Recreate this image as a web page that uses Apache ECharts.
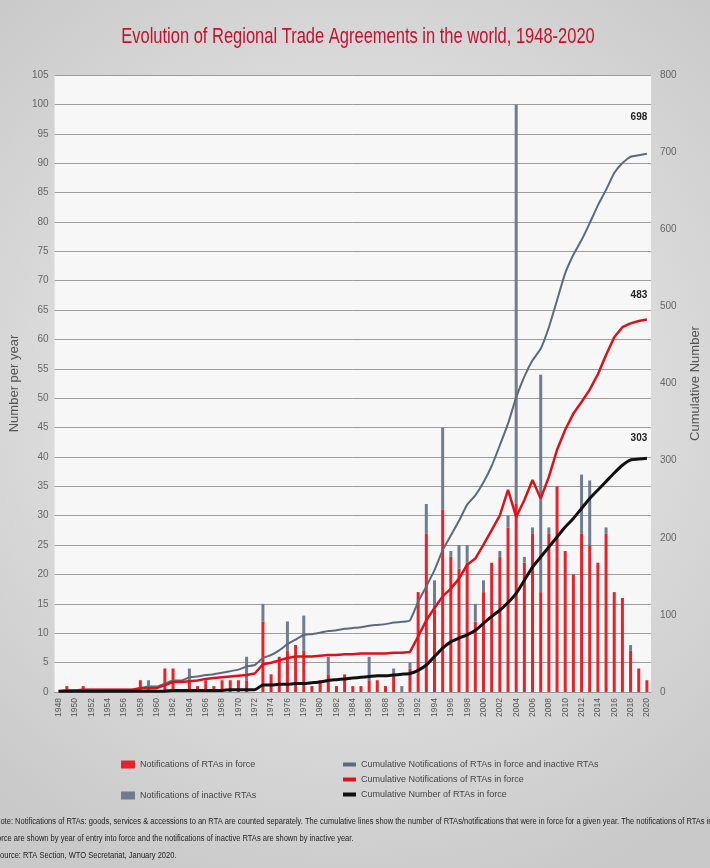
<!DOCTYPE html>
<html lang="en">
<head>
    <meta charset="UTF-8">
    <title>RTAs 1948-2020</title>
    <script src="https://cdn.jsdelivr.net/npm/echarts@6/dist/echarts.min.js"></script>
</head>
<style>
html,body{margin:0;padding:0;background-color:#ddd}
#chartBox{width:710px;height:868px}
</style>
<body>
    <div id="chartBox"></div>
</body>
<script>
// years 1948 - 2020
const years = [];
for (let y = 1948; y <= 2020; y++) years.push(String(y));

// notifications of RTAs in force, per year
const inForce = [0,1,0,1,0,0,0,0,0,0, 2,0,0,4,4,0,2,1,2,1, 2,2,2,2,0,12,3,6,7,8, 7,1,2,3,1,3,1,1,2,2, 1,3,0,4,17,27,14,31,23,21, 22,12,17,22,23,28,32,22,27,17, 27,35,24,20,27,25,22,27,17,16, 7,4,2];
// notifications of inactive RTAs, per year
const inactive = [0,0,0,0,0,0,0,0,0,0, 0,2,0,0,0,0,2,0,0,0, 0,0,0,4,0,3,0,0,5,0, 6,0,0,3,0,0,0,0,4,0, 0,1,1,1,0,5,5,14,1,4, 3,3,2,0,1,2,68,1,1,37, 1,0,0,0,10,11,0,1,0,0, 1,0,0];
// cumulative lines
const cumAll = [1,2,2,3,3,3,3,3,3,3, 5,7,7,11,15,15,19,20,22,23, 25,27,29,33,35,44,48,54,62,68, 74,75,77,79,80,82,83,84,86,87, 88,90,91,93,117,137,158,184,203,222, 243,255,272,293,320,348,382,409,430,445, 473,508,543,567,586,608,631,651,673,686, 694,696,698];
const cumInForce = [1,2,2,3,3,3,3,3,3,3, 5,5,5,9,13,13,14,15,17,18, 19,20,21,22,24,36,38,41,44,46, 46,46,47,48,48,49,49,50,50,50, 50,51,51,52,72,93,109,124,134,147, 165,173,191,210,229,262,227,249,275,251, 279,314,340,361,376,392,412,437,460,473, 478,481,483];
const cumRTAs = [1,1,1,1,1,1,1,1,1,1, 1,1,1,1,2,2,2,2,2,2, 2,3,3,3,3,9,9,10,10,11, 11,12,13,15,16,17,18,19,20,21, 21,22,23,24,28,35,46,57,65,70, 74,80,89,98,106,116,128,145,162,175, 188,201,214,225,238,251,262,273,284,294, 301,302,303];

const titleText = 'Evolution of Regional Trade Agreements in the world, 1948-2020';
const noteLines = [
    'Note: Notifications of RTAs: goods, services & accessions to an RTA are counted separately. The cumulative lines show the number of RTAs/notifications that were in force for a given year. The notifications of RTAs in',
    'force are shown by year of entry into force and the notifications of inactive RTAs are shown by inactive year.',
    'Source: RTA Section, WTO Secretariat, January 2020.'
];

const FONT = "'Liberation Sans', sans-serif";

// value label at the end (max) of a cumulative line
function endMark(dx, dy){
    return {
        symbol: 'circle', symbolSize: 1,
        itemStyle: {color: 'transparent'},
        label: {show: true, position: 'top', offset: [dx, dy], fontSize: 10, fontWeight: 'bold', color: '#222'},
        data: [{type: 'max'}]
    };
}

function generateChartOption(){
    // narrow texts drawn as graphic with horizontal squeeze
    let graphics = [{
        type: 'text', x: 358, y: 37, scaleX: 0.75,
        style: {text: titleText, fontSize: 22, fill: '#c8102e', fontFamily: FONT, textAlign: 'center', textVerticalAlign: 'middle'}
    }];
    noteLines.forEach((t, i) => graphics.push({
        type: 'text', x: -5, y: 822 + i * 17, scaleX: 0.885,
        style: {text: t, fontSize: 8.5, fill: '#222', fontFamily: FONT, textVerticalAlign: 'middle'}
    }));
    return {
        animation: false,
        backgroundColor: {
            type: 'radial', x: 0.5, y: 0.45, r: 0.75,
            colorStops: [{offset: 0, color: '#f2f2f2'}, {offset: 1, color: '#c9c9c9'}]
        },
        textStyle: {fontFamily: FONT},
        grid: {
            show: true,
            backgroundColor: '#f7f7f7',
            borderWidth: 0,
            left: 50,
            right: 53,
            top: 75,
            bottom: 176
        },
        xAxis: {
            type: 'category',
            data: years,
            axisLabel: {rotate: 90, interval: 1, fontSize: 8.5, color: '#555', margin: 6},
            axisTick: {show: false},
            axisLine: {lineStyle: {color: '#999'}}
        },
        yAxis: [
            {
                type: 'value', min: 0, max: 105, interval: 5,
                name: 'Number per year', nameLocation: 'middle', nameGap: 30,
                nameTextStyle: {fontSize: 13, color: '#555'},
                axisLabel: {fontSize: 10, color: '#666', margin: 6},
                axisLine: {show: false},
                axisTick: {show: false},
                splitLine: {lineStyle: {color: '#9c9c9c', width: 1}}
            },
            {
                type: 'value', min: 0, max: 800, interval: 100,
                name: 'Cumulative Number', nameLocation: 'middle', nameGap: 38,
                nameTextStyle: {fontSize: 13, color: '#555'},
                axisLabel: {fontSize: 10, color: '#666', margin: 9},
                axisLine: {show: false},
                axisTick: {show: false},
                splitLine: {show: false}
            }
        ],
        series: [
            {
                type: 'bar', name: 'Notifications of RTAs in force', stack: 'n',
                barWidth: 3, itemStyle: {color: '#e8222b'},
                data: inForce
            },
            {
                type: 'bar', name: 'Notifications of inactive RTAs', stack: 'n',
                barWidth: 3, itemStyle: {color: '#6f7d8e'},
                data: inactive
            },
            {
                type: 'line', name: 'Cumulative Notifications of RTAs in force and inactive RTAs',
                yAxisIndex: 1, showSymbol: false, symbol: 'none', smooth: 0.15,
                lineStyle: {width: 2, color: '#5d6a7d'}, itemStyle: {color: '#5d6a7d'},
                markPoint: endMark(-8, -26),
                data: cumAll
            },
            {
                type: 'line', name: 'Cumulative Notifications of RTAs in force',
                yAxisIndex: 1, showSymbol: false, symbol: 'none',
                lineStyle: {width: 2.5, color: '#e0101a'}, itemStyle: {color: '#e0101a'},
                markPoint: endMark(-8, -14),
                data: cumInForce
            },
            {
                type: 'line', name: 'Cumulative Number of RTAs in force',
                yAxisIndex: 1, showSymbol: false, symbol: 'none', smooth: 0.2,
                lineStyle: {width: 3, color: '#111'}, itemStyle: {color: '#111'},
                markPoint: endMark(-8, -10),
                data: cumRTAs
            }
        ],
        legend: [
            {
                orient: 'vertical', left: 116, top: 755, itemGap: 22,
                itemWidth: 14, itemHeight: 8,
                textStyle: {fontSize: 9, color: '#444'},
                data: [
                    {name: 'Notifications of RTAs in force', icon: 'rect'},
                    {name: 'Notifications of inactive RTAs', icon: 'rect'}
                ]
            },
            {
                orient: 'vertical', left: 338, top: 755, itemGap: 6,
                itemWidth: 13, itemHeight: 4,
                textStyle: {fontSize: 9, color: '#444'},
                data: [
                    {name: 'Cumulative Notifications of RTAs in force and inactive RTAs', icon: 'rect'},
                    {name: 'Cumulative Notifications of RTAs in force', icon: 'rect'},
                    {name: 'Cumulative Number of RTAs in force', icon: 'rect'}
                ]
            }
        ],
        graphic: graphics
    };
}

let chartObj = echarts.init(document.getElementById('chartBox'));
chartObj.setOption(generateChartOption());
</script>
</html>
